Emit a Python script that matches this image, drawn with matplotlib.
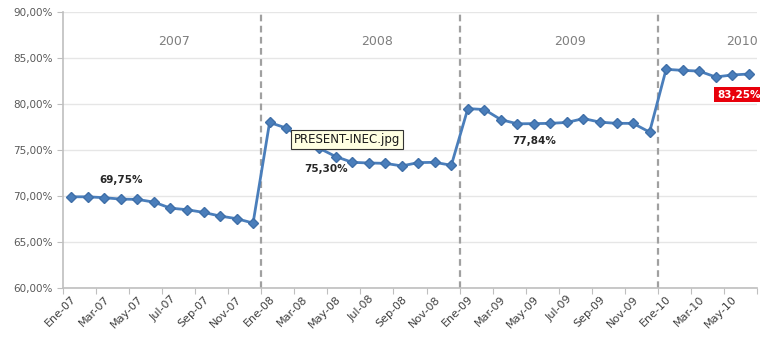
import numpy as np
import matplotlib.pyplot as plt

# monthly series, Ene-07 .. Jun-10
months = ["Ene", "Feb", "Mar", "Abr", "May", "Jun",
          "Jul", "Ago", "Sep", "Oct", "Nov", "Dic"]
years = ["07", "08", "09", "10"]
v2007 = [69.93, 69.93, 69.83, 69.68, 69.65, 69.35, 68.70, 68.53, 68.24, 67.84, 67.56, 67.08]
v2008 = [78.00, 77.39, 76.30, 75.20, 74.30, 73.67, 73.60, 73.56, 73.28, 73.64, 73.67, 73.35]
v2009 = [79.50, 79.40, 78.30, 77.85, 77.87, 77.90, 78.00, 78.42, 78.03, 77.90, 77.90, 76.95]
v2010 = [83.76, 83.65, 83.57, 82.93, 83.15, 83.25]

year_titles = ["2007", "2008", "2009", "2010"]
year_notes = ["69,75%", "75,30%", "77,84%"]

values = v2007 + v2008 + v2009 + v2010
labels = []
for y in years:
    for m in months:
        labels.append(m + "-" + y)
labels = labels[:len(values)]
x = np.arange(len(values))

fig = plt.figure(figsize=(7.6, 3.38), dpi=100)
ax = fig.add_axes([0.083, 0.147, 0.913, 0.818])

ax.plot(x, values, color="#4a7ebb", lw=2, marker="D", ms=4.8,
        mec="#3f6fa8", mfc="#4a7ebb", zorder=3)

ax.set_xlim(-0.5, len(values) - 0.5)
ax.set_ylim(60, 90)
yt = np.arange(60, 91, 5)
ax.set_yticks(yt)
ax.set_yticklabels([("%.2f%%" % v).replace(".", ",") for v in yt],
                   fontsize=7.5, color="#595959")
ax.grid(axis="y", color="#e6e6e6", lw=1)
ax.set_axisbelow(True)

# tick marks between categories, labels on every second month
ax.set_xticks(np.arange(-0.5, len(values), 2))
ax.set_xticklabels([])
ax.set_xticks(x[::2], labels[::2], minor=True)
ax.tick_params(axis="x", which="major", length=4, color="#bfbfbf")
ax.tick_params(axis="x", which="minor", length=0, pad=4)
for lab in ax.get_xticklabels(minor=True):
    lab.set_rotation(45)
    lab.set_ha("right")
    lab.set_rotation_mode("anchor")
    lab.set_fontsize(8)
    lab.set_color("#404040")
ax.tick_params(axis="y", length=4, color="#bfbfbf")

for side in ["top", "right"]:
    ax.spines[side].set_visible(False)
for side in ["left", "bottom"]:
    ax.spines[side].set_color("#bfbfbf")
    ax.spines[side].set_linewidth(1.2)

# year separators
for b in [11.5, 23.5, 35.5]:
    ax.axvline(b, color="#a0a0a0", lw=1.6, ls=(0, (3, 2)), zorder=2)

title_x = [6.2, 18.5, 30.2, 40.6]
for tx, t in zip(title_x, year_titles):
    ax.text(tx, 86.8, t, ha="center", va="center", fontsize=9, color="#7f7f7f")

note_pos = [(3.0, 71.7), (15.4, 72.9), (28.0, 76.0)]
for (nx, ny), t in zip(note_pos, year_notes):
    ax.text(nx, ny, t, ha="center", va="center", fontsize=7.5,
            fontweight="bold", color="#262626")

last = values[-1]
ax.text(40.4, 81.0, ("%.2f%%" % last).replace(".", ","), ha="center", va="center",
        fontsize=7.5, fontweight="bold", color="white",
        bbox=dict(boxstyle="square,pad=0.25", fc="#e8000b", ec="none"))

ax.text(13.45, 76.1, "PRESENT-INEC.jpg", ha="left", va="center", fontsize=8.5,
        color="#1a1a1a", zorder=5,
        bbox=dict(boxstyle="square,pad=0.25", fc="#ffffe1", ec="#333333", lw=0.8))

fig.savefig("out.png", dpi=100)
